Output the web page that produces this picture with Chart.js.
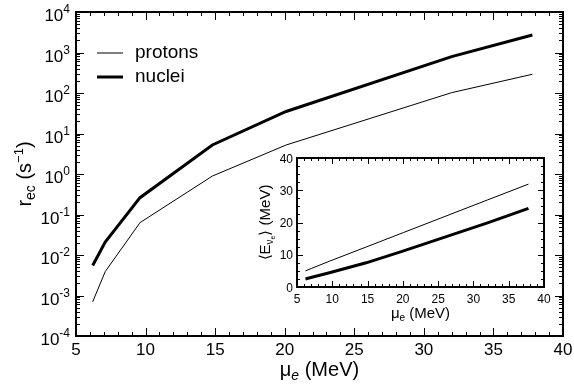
<!DOCTYPE html>
<html>
<head>
<meta charset="utf-8">
<script src="https://cdn.jsdelivr.net/npm/chart.js@4.4.1/dist/chart.umd.min.js"></script>
<style>
html, body { margin: 0; padding: 0; background: #fff; }
#wrap { position: relative; width: 574px; height: 385px; }
#main { position: absolute; left: 0; top: 0; }
#inset { position: absolute; left: 255px; top: 150px; }
</style>
</head>
<body>
<div id="wrap">
  <canvas id="main" width="574" height="385"></canvas>
  <canvas id="inset" width="300" height="175"></canvas>
</div>
<script>
// values
const muE = [6.2, 7.1, 9.6, 14.8, 20.1, 32.0, 37.8];
const rateProtons = [7e-4, 3.9e-3, 0.063, 0.89, 5.2, 102, 290];
const rateNuclei = [5.5e-3, 0.021, 0.26, 5.2, 35, 790, 2700];
const energyProtons = [5.0, 5.8, 8.0, 12.4, 16.9, 27.0, 31.9];
const energyNuclei = [2.5, 3.0, 4.4, 7.5, 11.2, 19.9, 24.4];
const seriesNames = ['protons', 'nuclei'];

const xTicks = [5, 10, 15, 20, 25, 30, 35, 40];
const yExponents = [-4, -3, -2, -1, 0, 1, 2, 3, 4];
const insetYTicks = [0, 10, 20, 30, 40];

const FONT = 'Liberation Sans, Arial, sans-serif';

function points(xs, ys) {
    return xs.map((x, i) => ({ x: x, y: ys[i] }));
}

function range(a, b, step) {
    const out = [];
    for (let v = a; v <= b + 1e-9; v += step) out.push(+v.toFixed(6));
    return out;
}

// draw a run of text pieces: [text, font, dy]
function richText(ctx, parts, x, y, align) {
    let w = 0;
    parts.forEach(p => { ctx.font = p[1]; w += ctx.measureText(p[0]).width; });
    let cx = align === 'center' ? x - w / 2 : align === 'right' ? x - w : x;
    ctx.textAlign = 'left';
    ctx.textBaseline = 'alphabetic';
    parts.forEach(p => {
        ctx.font = p[1];
        ctx.fillText(p[0], cx, y + (p[2] || 0));
        cx += ctx.measureText(p[0]).width;
    });
}

// inward ticks on all four sides plus the frame
function drawFrame(ctx, area, xs, ys, xMajor, xMinor, yMajor, yMinor, majLen, minLen, frameWidth) {
    ctx.save();
    ctx.strokeStyle = '#000';
    ctx.lineWidth = 1;
    ctx.beginPath();
    const xt = (vals, len) => vals.forEach(v => {
        const px = Math.round(xs.getPixelForValue(v)) + 0.5;
        ctx.moveTo(px, area.bottom); ctx.lineTo(px, area.bottom - len);
        ctx.moveTo(px, area.top); ctx.lineTo(px, area.top + len);
    });
    const yt = (vals, len) => vals.forEach(v => {
        const py = Math.round(ys.getPixelForValue(v)) + 0.5;
        ctx.moveTo(area.left, py); ctx.lineTo(area.left + len, py);
        ctx.moveTo(area.right, py); ctx.lineTo(area.right - len, py);
    });
    xt(xMajor, majLen); xt(xMinor, minLen);
    yt(yMajor, majLen); yt(yMinor, minLen);
    ctx.stroke();
    ctx.lineWidth = frameWidth;
    ctx.strokeRect(area.left, area.top, area.right - area.left, area.bottom - area.top);
    ctx.restore();
}

const mainDecor = {
    id: 'mainDecor',
    afterDraw(chart) {
        const ctx = chart.ctx, area = chart.chartArea;
        const xs = chart.scales.x, ys = chart.scales.y;
        const yMinor = [];
        for (let k = -4; k < 4; k++) for (let m = 2; m <= 9; m++) yMinor.push(m * Math.pow(10, k));
        drawFrame(ctx, area, xs, ys, xTicks, range(5, 40, 1).filter(v => v % 5),
            yExponents.map(k => Math.pow(10, k)), yMinor, 8, 4, 2);

        ctx.save();
        ctx.fillStyle = '#000';
        xTicks.forEach(v => {
            richText(ctx, [[String(v), '17px ' + FONT]], xs.getPixelForValue(v), 355, 'center');
        });
        yExponents.map(k => {
            const py = ys.getPixelForValue(Math.pow(10, k));
            richText(ctx, [['10', '17px ' + FONT], [String(k), '12px ' + FONT, -8]], 70, py + 9, 'right');
        });
        // axis titles
        richText(ctx, [['\u03bc', '20px ' + FONT], ['e', 'italic 14px ' + FONT, 4], [' (MeV)', '20px ' + FONT]],
            (area.left + area.right) / 2, 376, 'center');
        ctx.translate(31, (area.top + area.bottom) / 2);
        ctx.rotate(-Math.PI / 2);
        richText(ctx, [['r', '20px ' + FONT], ['ec', '14px ' + FONT, 4], [' (s', '20px ' + FONT],
            ['\u22121', '13px ' + FONT, -8], [')', '20px ' + FONT]], 0, 0, 'center');
        ctx.restore();

        // legend
        ctx.save();
        ctx.strokeStyle = '#000';
        ctx.fillStyle = '#000';
        chart.data.datasets.forEach((ds, i) => {
            const y = 53 + i * 24;
            ctx.lineWidth = ds.borderWidth;
            ctx.beginPath();
            ctx.moveTo(97, y); ctx.lineTo(123, y);
            ctx.stroke();
            ctx.font = '19px ' + FONT;
            ctx.textBaseline = 'middle';
            ctx.textAlign = 'left';
            ctx.fillText(ds.label, 135, y);
        });
        ctx.restore();
    }
};

const insetDecor = {
    id: 'insetDecor',
    afterDraw(chart) {
        const ctx = chart.ctx, area = chart.chartArea;
        const xs = chart.scales.x, ys = chart.scales.y;
        drawFrame(ctx, area, xs, ys, xTicks, range(5, 40, 1).filter(v => v % 5),
            insetYTicks, range(0, 40, 2.5).filter(v => v % 10), 6, 3, 2);
        ctx.save();
        ctx.fillStyle = '#000';
        xTicks.forEach(v => {
            richText(ctx, [[String(v), '12px ' + FONT]], xs.getPixelForValue(v), 153, 'center');
        });
        insetYTicks.forEach(v => {
            richText(ctx, [[String(v), '12px ' + FONT]], 38, ys.getPixelForValue(v) + 4.5, 'right');
        });
        richText(ctx, [['\u03bc', '15px ' + FONT], ['e', '10px ' + FONT, 3], [' (MeV)', '15px ' + FONT]],
            (area.left + area.right) / 2, 168, 'center');
        ctx.translate(15, (area.top + area.bottom) / 2);
        ctx.rotate(-Math.PI / 2);
        richText(ctx, [['\u27e8E', '15px ' + FONT], ['\u03bd', '10px ' + FONT, 3], ['e', '7px ' + FONT, 5],
            ['\u27e9 (MeV)', '15px ' + FONT]], 0, 0, 'center');
        ctx.restore();
    }
};

function lineSet(label, data, width) {
    return {
        label: label,
        data: data,
        borderColor: '#000',
        backgroundColor: '#000',
        borderWidth: width,
        pointRadius: 0,
        tension: 0,
        fill: false
    };
}

new Chart(document.getElementById('main').getContext('2d'), {
    type: 'line',
    data: {
        datasets: [
            lineSet(seriesNames[0], points(muE, rateProtons), 1),
            lineSet(seriesNames[1], points(muE, rateNuclei), 3)
        ]
    },
    options: {
        responsive: false,
        animation: false,
        layout: { padding: { left: 76, top: 12, right: 11, bottom: 49 } },
        plugins: { legend: { display: false }, tooltip: { enabled: false } },
        scales: {
            x: { type: 'linear', min: 5, max: 40, display: false },
            y: { type: 'logarithmic', min: 1e-4, max: 1e4, display: false }
        }
    },
    plugins: [mainDecor]
});

new Chart(document.getElementById('inset').getContext('2d'), {
    type: 'line',
    data: {
        datasets: [
            lineSet(seriesNames[0], points(muE, energyProtons), 1),
            lineSet(seriesNames[1], points(muE, energyNuclei), 3)
        ]
    },
    options: {
        responsive: false,
        animation: false,
        layout: { padding: { left: 42, top: 8, right: 11, bottom: 38 } },
        plugins: { legend: { display: false }, tooltip: { enabled: false } },
        scales: {
            x: { type: 'linear', min: 5, max: 40, display: false },
            y: { type: 'linear', min: 0, max: 40, display: false }
        }
    },
    plugins: [insetDecor]
});
</script>
</body>
</html>
